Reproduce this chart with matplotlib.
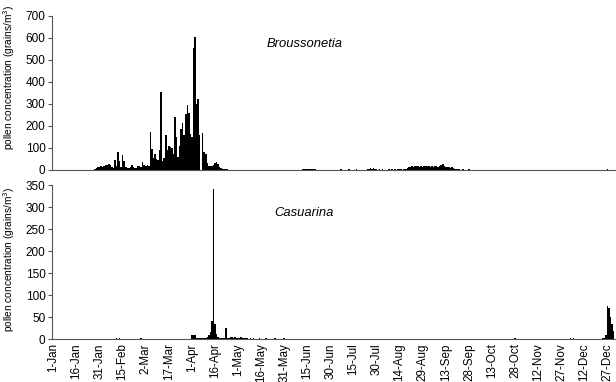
import matplotlib
matplotlib.use("Agg")
import matplotlib.pyplot as plt

plt.rcParams['font.family'] = ['Liberation Sans', 'DejaVu Sans']

# daily values, one list per month (grains/m3)
bro_jan = [0, 0, 1, 0, 2, 0, 1, 0, 0, 2, 1, 0, 0, 0, 1, 2, 0, 0, 1, 0, 0, 1, 0, 0, 2, 0, 1, 5, 8, 12, 15]
bro_feb = [18, 14, 20, 22, 25, 28, 22, 15, 10, 45, 20, 80, 40, 15, 70, 40, 12, 8, 10, 12, 25, 12, 8, 10, 20, 18, 12, 35]
bro_mar = [25, 20, 22, 20, 175, 95, 55, 75, 50, 45, 90, 355, 40, 55, 160, 90, 110, 105, 100, 75,
           240, 150, 60, 110, 185, 215, 160, 255, 295, 260, 165]
bro_apr = [150, 555, 605, 300, 325, 160, 0, 170, 80, 75, 30, 20, 18, 20, 25, 32, 35, 28, 15, 8,
           5, 4, 3, 3, 2, 2, 1, 2, 1, 2]
bro_may = [1, 2, 1, 0, 2, 1, 1, 0, 2, 1, 0, 1, 2, 0, 1, 1, 0, 2, 1, 0, 1, 0, 2, 1, 0, 1, 1, 0, 2, 1, 0]
bro_jun = [1, 0, 2, 1, 0, 1, 2, 1, 0, 1, 2, 3, 4, 5, 6, 5, 4, 5, 3, 4, 2, 1, 0, 1, 2, 1, 0, 1, 2, 1]
bro_jul = [0, 2, 1, 0, 1, 0, 3, 0, 1, 2, 0, 3, 2, 0, 1, 0, 3, 2, 1, 0, 2, 1, 0, 5, 6, 8, 5, 7, 4, 3, 2]
bro_aug = [3, 2, 3, 2, 1, 2, 3, 2, 3, 2, 3, 2, 3, 4, 3, 2, 3, 4, 8, 15, 14, 16, 15, 18, 16, 17, 14, 17, 15, 18, 16]
bro_sep = [16, 17, 15, 18, 14, 17, 16, 15, 18, 22, 29, 20, 14, 15, 12, 10, 12, 8, 6, 5,
           3, 3, 2, 3, 2, 1, 2, 3, 2, 1]
bro_oct = [1, 2, 1, 0, 2, 1, 0, 1, 2, 0, 1, 0, 1, 2, 1, 0, 0, 1, 2, 0, 1, 0, 2, 1, 0, 1, 2, 1, 0, 1, 0]
bro_nov = [1, 0, 2, 1, 0, 1, 2, 1, 0, 0, 1, 0, 1, 2, 1, 0, 1, 0, 1, 2, 1, 0, 1, 2, 1, 0, 0, 1, 0, 1]
bro_dec = [1, 0, 1, 2, 1, 0, 1, 0, 2, 1, 0, 1, 2, 1, 0, 1, 2, 1, 0, 1, 2, 1, 0, 1, 2, 2, 3, 2, 1, 2, 1]

cas_jan = [0] * 21 + [1] + [0] * 9
cas_feb = [0, 0, 0, 0, 0, 0, 0, 0, 0, 0, 2, 0, 2, 1, 0, 0, 0, 0, 0, 0, 0, 0, 0, 0, 0, 0, 2, 0]
cas_mar = [0, 0, 1] + [0] * 28
cas_apr = [10, 9, 8, 2, 3, 2, 3, 2, 3, 3, 5, 8, 15, 40, 340, 35, 12, 5, 3, 2,
           3, 2, 25, 3, 2, 4, 5, 3, 4, 3]
cas_may = [3, 2, 4, 3, 2, 3, 2, 1, 2, 1, 2, 1, 0, 1, 2, 1, 0, 1, 2, 0, 1, 0, 1, 0, 2, 0, 1, 0, 1, 0, 2]
cas_jun = [0, 1] + [0] * 28
cas_jul = [0] * 31
cas_aug = [0] * 31
cas_sep = [0] * 30
cas_oct = [0] * 12 + [1] + [0] * 14 + [2, 0, 0, 0]
cas_nov = [0] * 30
cas_dec = [0, 0, 2, 1, 2, 0, 0, 0, 0, 0, 0, 0, 0, 0, 0, 0, 0, 0, 0, 0,
           0, 1, 1, 2, 3, 8, 75, 70, 50, 35, 18]

tick_labels = ['1-Jan', '16-Jan', '31-Jan', '15-Feb', '2-Mar', '17-Mar', '1-Apr', '16-Apr',
               '1-May', '16-May', '31-May', '15-Jun', '30-Jun', '15-Jul', '30-Jul', '14-Aug',
               '29-Aug', '13-Sep', '28-Sep', '13-Oct', '28-Oct', '12-Nov', '27-Nov', '12-Dec', '27-Dec']

broussonetia = (bro_jan + bro_feb + bro_mar + bro_apr + bro_may + bro_jun +
                bro_jul + bro_aug + bro_sep + bro_oct + bro_nov + bro_dec)
casuarina = (cas_jan + cas_feb + cas_mar + cas_apr + cas_may + cas_jun +
             cas_jul + cas_aug + cas_sep + cas_oct + cas_nov + cas_dec)
days = list(range(1, len(broussonetia) + 1))
tick_days = list(range(1, 366, 15))

W, H = 616, 382
fig = plt.figure(figsize=(W / 100, H / 100), dpi=100)
left = 52.5 / W
width = 1 - left
ax1 = fig.add_axes([left, 1 - 170 / H, width, 154 / H])
ax2 = fig.add_axes([left, 1 - 339 / H, width, 154 / H])

spine_col = '#555555'
panels = [(ax1, broussonetia, 700, 100, 'Broussonetia', 0.60),
          (ax2, casuarina, 350, 50, 'Casuarina', 0.52)]
for ax, vals, ymax, step, name, label_y in panels:
    ax.bar(days, vals, width=1.0, color='black', linewidth=0)
    ax.set_xlim(0.4, 366.6)
    ax.set_ylim(0, ymax)
    ax.set_yticks(range(0, ymax + 1, step))
    for s in ['top', 'right']:
        ax.spines[s].set_visible(False)
    for s in ['left', 'bottom']:
        ax.spines[s].set_color(spine_col)
        ax.spines[s].set_linewidth(0.8)
    ax.tick_params(axis='y', direction='out', length=3, width=0.8, color=spine_col,
                   labelsize=8.5, pad=2)
    ax.set_ylabel('pollen concentration (grains/m$^3$)', fontsize=7.3)
    ax.yaxis.set_label_coords(-0.063, label_y)
    ax.text(0.447, 0.815, name, transform=ax.transAxes, fontsize=9.4,
            style='italic', ha='center', va='center')

ax1.set_xticks([])
ax2.set_xticks(tick_days)
ax2.set_xticklabels(tick_labels, rotation=90, fontsize=8.4)
ax2.tick_params(axis='x', length=0, pad=3)

plt.savefig('out.png', dpi=100)
